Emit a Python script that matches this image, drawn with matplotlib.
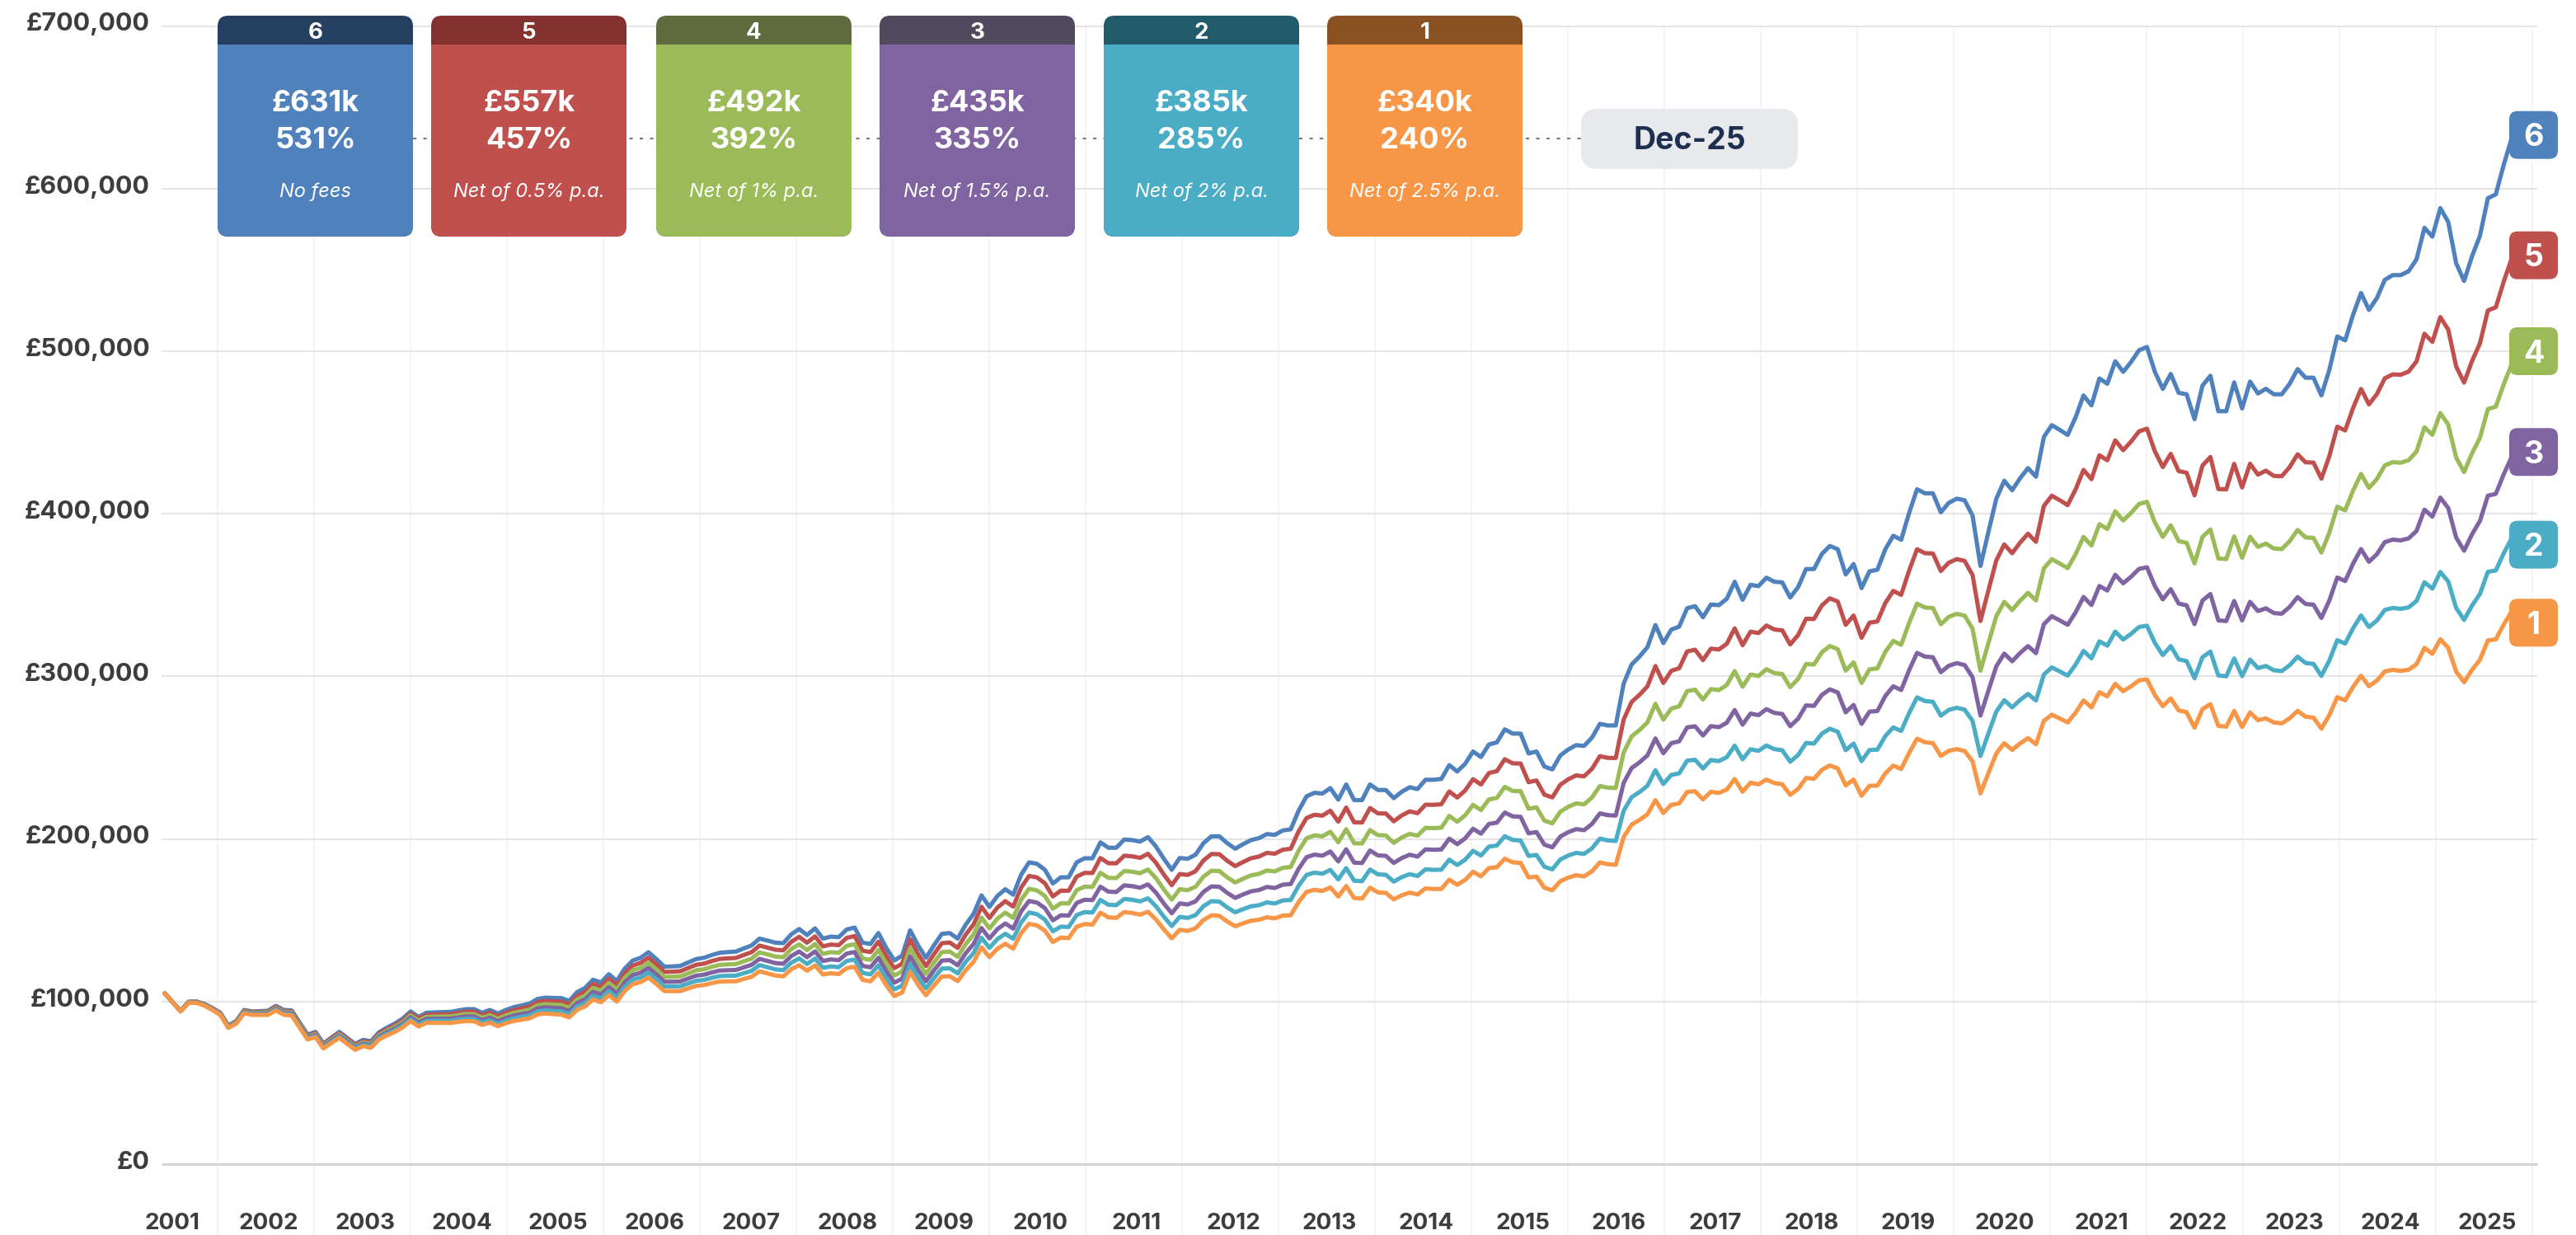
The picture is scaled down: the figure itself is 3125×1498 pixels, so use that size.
import numpy as np
import matplotlib
matplotlib.use("Agg")
import matplotlib.pyplot as plt
from matplotlib.patches import FancyBboxPatch, Rectangle

plt.rcParams['font.family'] = ['Inter', 'DejaVu Sans']

# Portfolio value before any fees (£k), one value per monthly observation
gross_k = [
    105.0, 99.5, 94.3, 99.9, 100.0, 98.5, 96.0, 93.1, 85.2, 88.0,
    94.8, 93.9, 94.1, 94.3, 97.3, 94.8, 94.5, 87.0, 79.6, 81.3,
    74.2, 77.8, 81.3, 77.6, 73.9, 76.4, 75.6, 81.0, 83.9, 86.4,
    89.5, 93.9, 90.5, 93.1, 93.3, 93.5, 93.6, 94.5, 95.3, 95.3,
    93.1, 94.8, 92.6, 94.8, 96.5, 97.6, 98.7, 101.6, 102.4, 102.2,
    102.1, 100.4, 105.8, 108.3, 113.4, 111.7, 116.8, 112.6, 120.2, 125.2,
    126.9, 130.3, 126.1, 121.4, 121.6, 121.9, 124.0, 126.1, 126.9, 128.6,
    130.0, 130.4, 130.7, 132.6, 134.5, 138.7, 137.5, 136.2, 135.9, 141.3,
    144.6, 140.9, 145.0, 138.7, 139.9, 139.6, 144.3, 145.5, 136.2, 135.4,
    142.1, 132.9, 125.3, 128.2, 143.8, 134.5, 126.9, 134.5, 141.6, 142.1,
    138.7, 147.2, 153.9, 165.3, 158.2, 164.9, 169.1, 165.7, 178.0, 185.6,
    184.7, 181.0, 172.6, 176.4, 176.4, 185.6, 188.1, 188.1, 197.9, 194.6,
    194.6, 199.6, 199.3, 198.4, 201.1, 195.4, 187.8, 181.0, 188.3, 187.8,
    190.3, 197.4, 201.6, 201.6, 197.4, 194.0, 196.8, 199.3, 200.5, 203.0,
    202.5, 205.2, 205.9, 217.4, 226.2, 228.4, 227.9, 231.3, 224.2, 233.5,
    223.9, 223.9, 233.5, 230.1, 230.1, 225.1, 229.0, 231.8, 230.7, 236.4,
    236.4, 236.9, 245.4, 241.5, 246.2, 253.8, 250.4, 258.1, 259.4, 267.4,
    264.8, 264.8, 252.6, 253.8, 244.5, 242.8, 251.3, 255.0, 257.7, 257.2,
    262.3, 270.8, 269.8, 269.8, 295.6, 307.3, 312.2, 318.0, 331.6, 320.5,
    328.7, 330.6, 341.9, 343.2, 336.4, 344.2, 343.8, 347.7, 358.2, 347.1,
    356.3, 355.5, 360.7, 358.2, 357.8, 348.5, 354.9, 366.0, 366.0, 375.3,
    380.2, 378.2, 362.7, 369.1, 354.3, 364.6, 365.6, 378.2, 386.5, 384.0,
    400.5, 415.1, 412.6, 412.6, 400.9, 406.7, 409.3, 408.3, 398.9, 367.9,
    388.8, 409.3, 420.3, 414.5, 421.9, 428.1, 422.8, 447.3, 454.5, 451.6,
    448.5, 459.4, 472.8, 466.7, 483.2, 480.0, 493.8, 487.3, 493.4, 500.6,
    502.6, 487.3, 476.8, 486.0, 474.4, 473.5, 458.2, 478.8, 484.9, 463.1,
    463.1, 480.8, 464.8, 481.3, 474.0, 476.9, 473.5, 473.5, 480.0, 489.0,
    483.7, 483.7, 472.8, 488.5, 509.1, 506.7, 522.5, 535.8, 525.4, 532.7,
    543.9, 546.8, 546.8, 549.2, 556.5, 575.9, 570.5, 588.0, 579.5, 554.1,
    543.2, 558.4, 571.0, 594.1, 596.5, 614.7, 631.0,
]

series_ids = [6, 5, 4, 3, 2, 1]
fee_notes = ["No fees", "Net of 0.5% p.a.", "Net of 1% p.a.",
             "Net of 1.5% p.a.", "Net of 2% p.a.", "Net of 2.5% p.a."]
final_k = [631, 557, 492, 435, 385, 340]
growth_pct = [531, 457, 392, 335, 285, 240]
year_labels = list(range(2001, 2026))
y_ticks = [0, 100000, 200000, 300000, 400000, 500000, 600000, 700000]
as_at = "Dec-25"

line_colors = ['#4f81bd', '#c0504d', '#9bbb59', '#8064a2', '#4bacc6', '#f79646']
header_colors = ['#243f60', '#833230', '#5f6b3f', '#514a5f', '#215b6a', '#8a5222']

# first and last observation, in decimal years
T_FIRST, T_LAST = 2001.453, 2025.786

W, H, DPI = 3125, 1498, 100
fig = plt.figure(figsize=(W / DPI, H / DPI), dpi=DPI)
fig.patch.set_facecolor('white')


def px_to_year(px):
    return 2002 + (px - 264) / 117.0


def py_to_val(py):
    return (1412 - py) * 100000 / 197.2


ax = fig.add_axes([0, 0, 1, 1])
ax.set_axis_off()
ax.set_xlim(px_to_year(0), px_to_year(W))
ax.set_ylim(py_to_val(H), py_to_val(0))

# year separators
for yr in range(2002, 2027):
    ax.plot([yr, yr], [py_to_val(H), 700000], color='#f3f3f3', lw=1.3, zorder=0)

# value gridlines
for v in y_ticks:
    ax.plot([px_to_year(196), px_to_year(3078)], [v, v],
            color='#d4d4d4' if v == 0 else '#e4e4e4',
            lw=2.2 if v == 0 else 1.4, zorder=1, solid_capstyle='butt')
    ax.text(px_to_year(182), v - 2900, f"£{v:,}", ha='right', va='baseline',
            fontsize=22, fontweight='bold', color='#3d3d3d')

for yr in year_labels:
    ax.text(yr + 0.53, py_to_val(1491), str(yr), ha='center', va='baseline',
            fontsize=20, fontweight='bold', color='#3d3d3d')

# series: gross values and the same path net of each annual fee
gross = np.array(gross_k) * 1000.0
n = len(gross)
t = np.linspace(T_FIRST, T_LAST, n)
frac = np.arange(n) / (n - 1)
series = []
for fk in final_k:
    series.append(gross * (fk / final_k[0]) ** frac)

for j in range(len(series)):
    ax.plot(t, series[j], color=line_colors[j], lw=3.7, zorder=3 + j,
            solid_joinstyle='round', solid_capstyle='round')

# overlay in pixel units for the summary cards
ov = fig.add_axes([0, 0, 1, 1])
ov.set_axis_off()
ov.set_xlim(0, W)
ov.set_ylim(H, 0)


def to_px(x, y):
    disp = ax.transData.transform((x, y))
    return ov.transData.inverted().transform(disp)


_, y_end = to_px(T_LAST, series[0][-1])

# connector at the latest value
ov.plot([501, 1918], [y_end, y_end], color='#7a7a7a', lw=1.5,
        ls=(0, (2, 4)), zorder=1)

box_left = [264, 523, 796, 1067, 1339, 1610]
BW, TOP, HEAD, BOT, R = 237, 19, 54, 287, 13
for j in range(6):
    s = box_left[j]
    cx = s + BW / 2
    ov.add_patch(FancyBboxPatch((s, TOP), BW, BOT - TOP,
                                boxstyle=f"round,pad=0,rounding_size={R}",
                                fc=header_colors[j], ec='none', zorder=2))
    ov.add_patch(FancyBboxPatch((s, HEAD), BW, BOT - HEAD,
                                boxstyle=f"round,pad=0,rounding_size={R}",
                                fc=line_colors[j], ec='none', zorder=3))
    ov.add_patch(Rectangle((s, HEAD), BW, R + 2, fc=line_colors[j], ec='none', zorder=3))
    ov.text(cx, 47, str(series_ids[j]), ha='center', va='baseline', color='white',
            fontsize=20, fontweight='bold', zorder=4)
    ov.text(cx, 135, f"£{final_k[j]}k", ha='center', va='baseline', color='white',
            fontsize=26, fontweight='bold', zorder=4)
    ov.text(cx, 180, f"{growth_pct[j]}%", ha='center', va='baseline', color='white',
            fontsize=26, fontweight='bold', zorder=4)
    ov.text(cx, 239, fee_notes[j], ha='center', va='baseline', color='white',
            fontsize=17, fontstyle='italic', zorder=4)

# date badge
ov.add_patch(FancyBboxPatch((1918, 132), 263, 73,
                            boxstyle="round,pad=0,rounding_size=20",
                            fc='#e8e9ec', ec='none', zorder=2))
ov.text(2049.5, 181, as_at, ha='center', va='baseline', color='#1e2f4f',
        fontsize=27, fontweight='bold', zorder=4)

# end-of-line series tags
tag_shift_k = [2, 2, 8, 3, -4, -7]
for j in range(6):
    _, yc = to_px(T_LAST, (final_k[j] + tag_shift_k[j]) * 1000.0)
    ov.add_patch(FancyBboxPatch((3044, yc - 29), 59, 58,
                                boxstyle="round,pad=0,rounding_size=10",
                                fc=line_colors[j], ec='none', zorder=5))
    ov.text(3073.5, yc + 13.5, str(series_ids[j]), ha='center', va='baseline',
            color='white', fontsize=27, fontweight='bold', zorder=6)

fig.savefig("out.png", dpi=DPI, facecolor='white')
